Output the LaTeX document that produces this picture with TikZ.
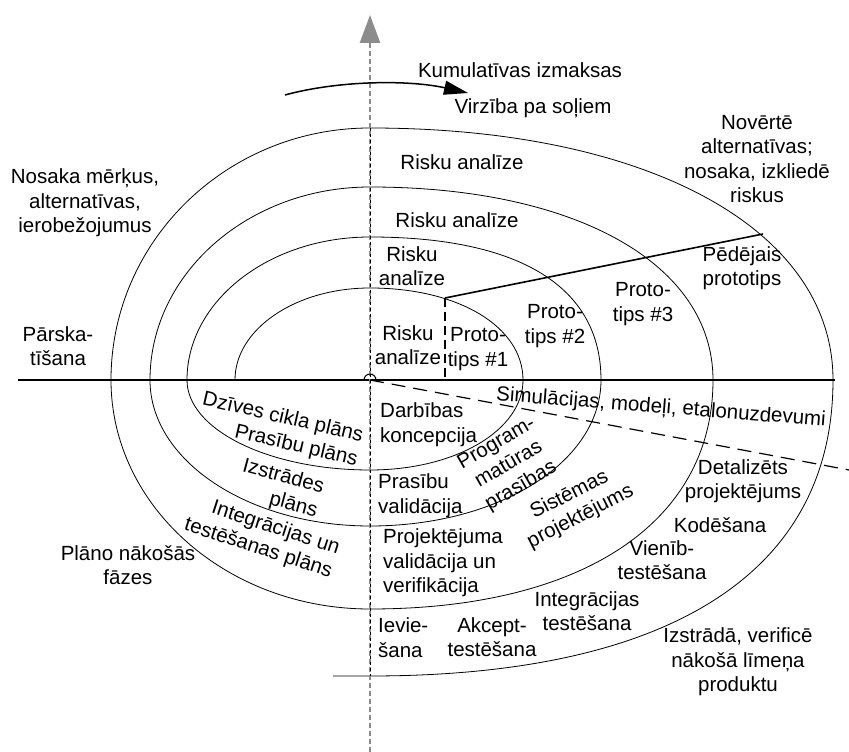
\documentclass[tikz,border=0pt]{standalone}
\usepackage{fontspec}
\setmainfont{Liberation Sans}
\usetikzlibrary{arrows.meta}
\newcommand{\lblfont}{\fontsize{20.5}{24.5}\selectfont}
\begin{document}
\begin{tikzpicture}[x=1pt, y=1pt,
    lbl/.style={font=\lblfont, align=center, inner sep=1pt},
    lbll/.style={lbl, align=left, anchor=west},
    spiral/.style={line width=0.8pt},
    axis/.style={line width=1.6pt},
    costaxis/.style={black!45, line width=2.6pt, dash pattern=on 5pt off 3pt,
      -{Triangle[length=28pt, width=20pt]}},
    stepline/.style={line width=1.2pt, dash pattern=on 14pt off 8pt}]
  \useasboundingbox (-370,-372) rectangle (479,380);
  \coordinate (o) at (0,0);
  \coordinate (axl) at (-352,0);
  \coordinate (axr) at (465,0);
  \coordinate (cbot) at (0,-372);
  \coordinate (ctop) at (0,365);
  \coordinate (vtop) at (0,252);
  \coordinate (vbot) at (0,-296);
  \coordinate (p1) at (75,82);
  \coordinate (p1b) at (75,0);
  \coordinate (pfin) at (393,146);
  \coordinate (dend) at (479,-90);
  \coordinate (arrl) at (-85,285);
  \coordinate (arrr) at (98,287);

  \draw[spiral] (-135,0)
    arc[start angle=180, end angle=90, x radius=135, y radius=92]
    .. controls (89,92) and (153,53) .. (153,0)
    .. controls (153,-50) and (86,-90) .. (0,-90)
    arc[start angle=-90, end angle=-180, x radius=183, y radius=90]
    arc[start angle=180, end angle=90, x radius=183, y radius=143]
    .. controls (150,143) and (231,93) .. (231,0)
    .. controls (231,-82) and (129,-146) .. (0,-146)
    arc[start angle=-90, end angle=-180, x radius=220, y radius=146]
    arc[start angle=180, end angle=90, x radius=220, y radius=193]
    .. controls (206,193) and (343,116) .. (343,0)
    .. controls (343,-142) and (213,-229) .. (0,-229)
    arc[start angle=-90, end angle=-180, x radius=259, y radius=229]
    arc[start angle=180, end angle=90, x radius=259, y radius=252]
    .. controls (278,252) and (463,151) .. (463,0)
    .. controls (463,-192) and (301,-296) .. (0,-296)
    -- (-37,-296);

  \draw[axis] (axl) -- (axr);
  \draw[costaxis] (cbot) -- (ctop);
  \draw[line width=0.8pt, dash pattern=on 3pt off 3pt] (vtop) -- (vbot);
  \draw[line width=1pt] (6,0) arc[start angle=0, end angle=180, radius=6];
  \draw[stepline] (o) -- (dend);
  \draw[line width=1.2pt, dash pattern=on 9pt off 5pt] (p1) -- (p1b);
  \draw[line width=1.6pt] (p1) -- (pfin);
  \draw[line width=1.5pt, -{Triangle[length=24pt, width=14pt]}]
    (arrl) .. controls (-30,300) and (40,300) .. (arrr);

  \node[lbl] (kum) at (150,310) {Kumulatīvas izmaksas};
  \node[lbl] (virz) at (163,272) {Virzība pa soļiem};
  \node[lbl] (risk4) at (92,218) {Risku analīze};
  \node[lbl] (risk3) at (87,160) {Risku analīze};
  \node[lbl] (risk2) at (42,114) {Risku\\analīze};
  \node[lbl] (risk1) at (38,35) {Risku\\analīze};
  \node[lbl] (proto1) at (108,31) {Proto-\\tips \#1};
  \node[lbl] (proto2) at (185,54) {Proto-\\tips \#2};
  \node[lbl] (proto3) at (273,76) {Proto-\\tips \#3};
  \node[lbl] (protofin) at (372,112) {Pēdējais\\prototips};
  \node[lbl] (novert) at (387,221) {Novērtē\\alternatīvas;\\nosaka, izkliedē\\riskus};
  \node[lbl] (nosaka) at (-285,177) {Nosaka mērķus,\\alternatīvas,\\ierobežojumus};
  \node[lbl] (parsk) at (-312,34) {Pārska-\\tīšana};
  \node[lbl, align=right, rotate=-13] (dzives) at (-90,-50) {Dzīves cikla plāns\\Prasību plāns};
  \node[lbl, align=right, rotate=-15] (izstrpl) at (-90,-109) {Izstrādes\\plāns};
  \node[lbl, align=right, rotate=-18] (integpl) at (-108,-157) {Integrācijas un\\testēšanas plāns};
  \node[lbl] (plano) at (-242,-185) {Plāno nākošās\\fāzes};
  \node[lbll] (darb) at (9,-44.5) {Darbības\\koncepcija};
  \node[lbl, rotate=30] (progr) at (139,-85) {Program-\\matūras\\prasības};
  \node[lbll] (prasval) at (7,-115.5) {Prasību\\validācija};
  \node[lbl, rotate=27] (sist) at (205,-126) {Sistēmas\\projektējums};
  \node[lbll] (projval) at (12,-183) {Projektējuma\\validācija un\\verifikācija};
  \node[lbl] (detal) at (373,-101) {Detalizēts\\projektējums};
  \node[lbl] (kod) at (350,-145) {Kodēšana};
  \node[lbl] (vien) at (292,-180) {Vienīb-\\testēšana};
  \node[lbl] (integt) at (217,-231) {Integrācijas\\testēšana};
  \node[lbll] (ievie) at (7,-257.5) {Ievie-\\šana};
  \node[lbl] (akcept) at (122,-257) {Akcept-\\testēšana};
  \node[lbl] (izstrada) at (368,-282) {Izstrādā, verificē\\nākošā līmeņa\\produktu};
  \node[lbl, rotate=-4.5] (simul) at (291,-28) {Simulācijas, modeļi, etalonuzdevumi};
\end{tikzpicture}
\end{document}
